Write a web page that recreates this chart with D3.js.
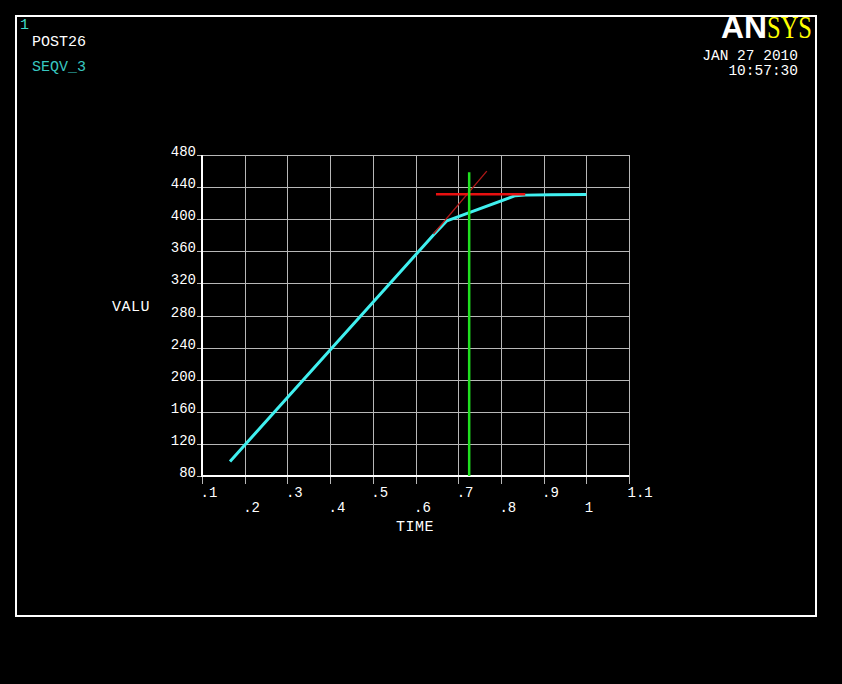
<!DOCTYPE html>
<html><head><meta charset="utf-8">
<script src="https://cdn.jsdelivr.net/npm/d3@7"></script>
<style>
html,body{margin:0;padding:0;background:#000;}
svg{display:block;}
text{font-family:"Liberation Mono","DejaVu Sans Mono",monospace;}
</style></head>
<body>
<script>
// ---- data ----
const timeVals = [0.1656, 0.4, 0.642, 0.6735, 0.8335, 0.857, 0.916, 1.0];
const seqvVals = [98, 237, 380.3, 398, 429.3, 430, 430.6, 430.8];
const slopeLineT = [0.642, 0.767];
const slopeLineV = [381.6, 459.9];
const yieldLineT = [0.648, 0.857];
const yieldLineV = [431, 431];
const markerT = [0.7257, 0.7257];
const markerV = [80, 458.5];
const xTickValues = [0.1, 0.2, 0.3, 0.4, 0.5, 0.6, 0.7, 0.8, 0.9, 1.0, 1.1];
const xTickLabels = [".1", ".2", ".3", ".4", ".5", ".6", ".7", ".8", ".9", "1", "1.1"];
const yTickValues = [80, 120, 160, 200, 240, 280, 320, 360, 400, 440, 480];
const yTickLabels = ["80", "120", "160", "200", "240", "280", "320", "360", "400", "440", "480"];

const W = 842, H = 684;
const svg = d3.select("body").append("svg").attr("width", W).attr("height", H)
  .style("background", "#000");

// frame
svg.append("rect").attr("x", 16).attr("y", 16).attr("width", 800).attr("height", 600)
  .attr("fill", "none").attr("stroke", "#fff").attr("stroke-width", 2);

// header texts
svg.append("text").attr("x", 20).attr("y", 29).attr("fill", "#40d8c8")
  .style("font-size", "15px").text("1");
svg.append("text").attr("x", 32).attr("y", 46).attr("fill", "#fff")
  .style("font-size", "15px").text("POST26");
svg.append("text").attr("x", 32).attr("y", 71).attr("fill", "#38c8c0")
  .style("font-size", "15px").text("SEQV_3");
svg.append("text").attr("x", 798).attr("y", 60).attr("fill", "#fff")
  .attr("text-anchor", "end").style("font-size", "14.5px").text("JAN 27 2010");
svg.append("text").attr("x", 798).attr("y", 75).attr("fill", "#fff")
  .attr("text-anchor", "end").style("font-size", "14.5px").text("10:57:30");
// logo
svg.append("text").attr("x", 721).attr("y", 38).attr("fill", "#fff")
  .style("font-family", "'Liberation Sans',Arial,sans-serif").style("font-weight", "bold")
  .style("font-size", "32px").attr("textLength", 46).attr("lengthAdjust", "spacingAndGlyphs").text("AN");
svg.append("text").attr("x", 767).attr("y", 38).attr("fill", "#ffff00")
  .style("font-family", "'Liberation Serif','Times New Roman',serif")
  .style("font-size", "32px").attr("textLength", 45).attr("lengthAdjust", "spacingAndGlyphs").text("SYS");

// scales
const x = d3.scaleLinear().domain([0.1, 1.1]).range([202, 629]);
const y = d3.scaleLinear().domain([80, 480]).range([476, 155]);

// grid lines via axes
const gx = svg.append("g").attr("transform", "translate(0,484)")
  .call(d3.axisBottom(x).tickValues(xTickValues).tickSize(-(484 - 155)).tickFormat(""));
const gy = svg.append("g").attr("transform", "translate(197,0)")
  .call(d3.axisLeft(y).tickValues(yTickValues).tickSize(-(629 - 197)).tickFormat(""));
[gx, gy].forEach(g => {
  g.select(".domain").remove();
  g.selectAll(".tick line").attr("stroke", "#b8b8b8").attr("stroke-width", 1)
    .attr("shape-rendering", "crispEdges");
});

// main axes lines
svg.append("line").attr("x1", x(0.1)).attr("x2", x(0.1)).attr("y1", y(480)).attr("y2", y(80) + 1)
  .attr("stroke", "#fff").attr("stroke-width", 2);
svg.append("line").attr("x1", x(0.1) - 1).attr("x2", x(1.1)).attr("y1", y(80)).attr("y2", y(80))
  .attr("stroke", "#fff").attr("stroke-width", 2);

// tick labels
svg.append("g").selectAll("text").data(yTickValues).join("text")
  .attr("x", 196).attr("y", d => y(d) + 1)
  .attr("text-anchor", "end").attr("fill", "#fff").style("font-size", "14px")
  .text((d, i) => yTickLabels[i]);
svg.append("g").selectAll("text").data(xTickValues).join("text")
  .attr("x", d => x(d) - 1.5).attr("y", (d, i) => i % 2 === 0 ? 497 : 512)
  .attr("fill", "#fff").style("font-size", "14px")
  .text((d, i) => xTickLabels[i]);

// axis titles
svg.append("text").attr("x", 415).attr("y", 531).attr("text-anchor", "middle")
  .attr("fill", "#fff").style("font-size", "15px").style("letter-spacing", "0.5px").text("TIME");
svg.append("text").attr("x", 112).attr("y", 311)
  .attr("fill", "#fff").style("font-size", "15px").style("letter-spacing", "0.5px").text("VALU");

const line = d3.line().x(d => x(d[0])).y(d => y(d[1]));

// data curve
svg.append("path").datum(d3.zip(timeVals, seqvVals)).attr("d", line)
  .attr("fill", "none").attr("stroke", "#40f0f0").attr("stroke-width", 3)
  .attr("stroke-linejoin", "round");

// slope line (thin dark red)
svg.append("path").datum(d3.zip(slopeLineT, slopeLineV)).attr("d", line)
  .attr("fill", "none").attr("stroke", "#b01818").attr("stroke-width", 1.3);
// yield horizontal
svg.append("path").datum(d3.zip(yieldLineT, yieldLineV)).attr("d", line)
  .attr("fill", "none").attr("stroke", "#e81010").attr("stroke-width", 2.5);
// green marker
svg.append("path").datum(d3.zip(markerT, markerV)).attr("d", line)
  .attr("fill", "none").attr("stroke", "#20e020").attr("stroke-width", 2.5);
</script>
</body></html>
